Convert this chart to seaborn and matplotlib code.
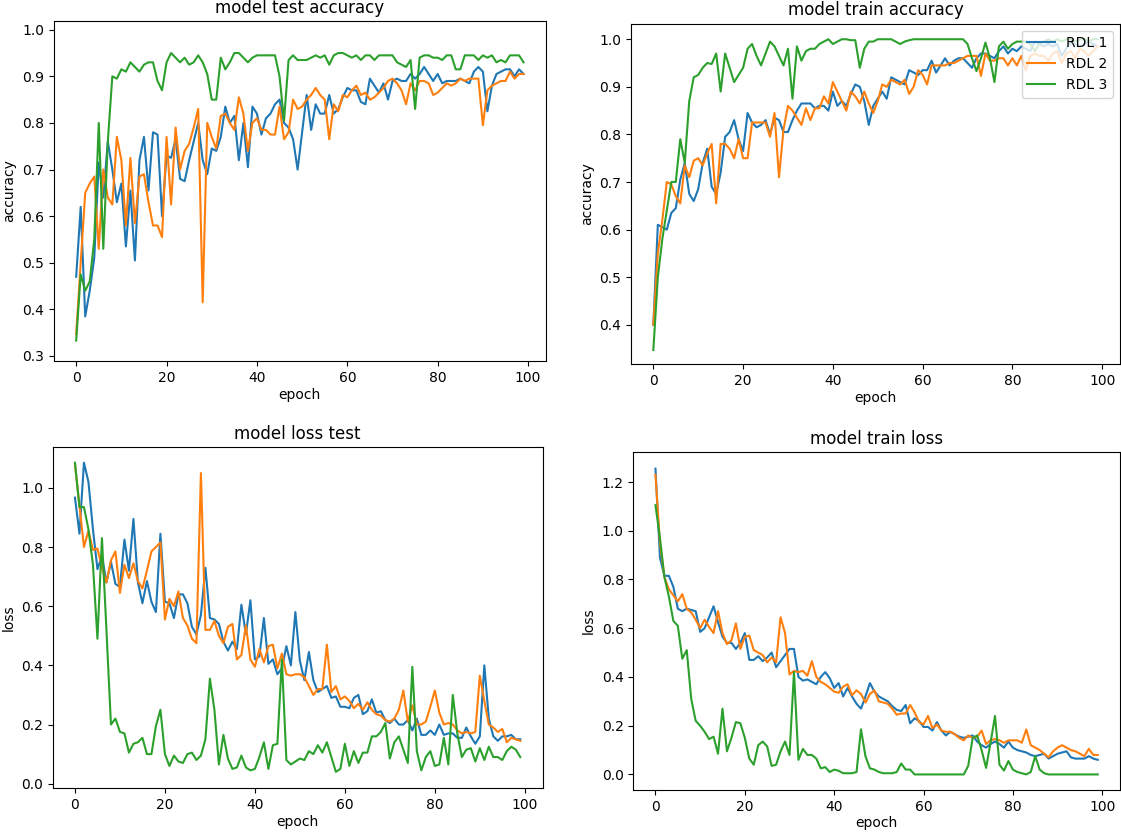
import numpy as np
import pandas as pd
import seaborn as sns
from matplotlib import pyplot as plt

epochs = list(range(100))
models = ['RDL 1', 'RDL 2', 'RDL 3']
colors = ['#1f77b4', '#ff7f0e', '#2ca02c']

# test accuracy
acc_test_1 = [0.47, 0.62, 0.385, 0.44, 0.51, 0.715, 0.64, 0.76, 0.70, 0.63,
              0.67, 0.535, 0.655, 0.505, 0.72, 0.77, 0.655, 0.78, 0.775, 0.60,
              0.73, 0.725, 0.765, 0.68, 0.675, 0.72, 0.76, 0.80, 0.72, 0.69,
              0.745, 0.74, 0.77, 0.835, 0.80, 0.815, 0.72, 0.80, 0.705, 0.835,
              0.82, 0.775, 0.81, 0.82, 0.84, 0.85, 0.80, 0.79, 0.765, 0.70,
              0.78, 0.86, 0.785, 0.84, 0.82, 0.82, 0.86, 0.82, 0.83, 0.855,
              0.875, 0.87, 0.87, 0.845, 0.84, 0.895, 0.88, 0.865, 0.885, 0.85,
              0.89, 0.895, 0.89, 0.89, 0.905, 0.895, 0.905, 0.92, 0.905, 0.89,
              0.905, 0.885, 0.89, 0.89, 0.89, 0.895, 0.89, 0.885, 0.91, 0.92,
              0.91, 0.825, 0.88, 0.905, 0.91, 0.915, 0.915, 0.90, 0.915, 0.905]
acc_test_2 = [0.347, 0.50, 0.65, 0.67, 0.685, 0.53, 0.70, 0.64, 0.625, 0.77,
              0.72, 0.58, 0.725, 0.585, 0.685, 0.69, 0.63, 0.58, 0.58, 0.555,
              0.77, 0.625, 0.79, 0.70, 0.74, 0.755, 0.79, 0.83, 0.415, 0.80,
              0.77, 0.745, 0.815, 0.82, 0.80, 0.785, 0.855, 0.82, 0.74, 0.80,
              0.81, 0.785, 0.785, 0.775, 0.775, 0.835, 0.765, 0.78, 0.85, 0.83,
              0.835, 0.85, 0.86, 0.875, 0.86, 0.85, 0.765, 0.84, 0.825, 0.86,
              0.855, 0.87, 0.88, 0.86, 0.865, 0.85, 0.855, 0.865, 0.875, 0.89,
              0.895, 0.885, 0.87, 0.84, 0.885, 0.87, 0.89, 0.89, 0.885, 0.86,
              0.865, 0.875, 0.885, 0.88, 0.885, 0.895, 0.89, 0.895, 0.895, 0.895,
              0.795, 0.87, 0.88, 0.885, 0.89, 0.89, 0.91, 0.895, 0.905, 0.905]
acc_test_3 = [0.333, 0.475, 0.44, 0.46, 0.55, 0.80, 0.53, 0.76, 0.90, 0.895,
              0.915, 0.91, 0.93, 0.92, 0.91, 0.925, 0.93, 0.93, 0.89, 0.87,
              0.93, 0.95, 0.94, 0.93, 0.94, 0.925, 0.93, 0.945, 0.93, 0.905,
              0.85, 0.85, 0.94, 0.915, 0.93, 0.95, 0.95, 0.94, 0.93, 0.94,
              0.945, 0.945, 0.945, 0.945, 0.945, 0.90, 0.805, 0.935, 0.945, 0.935,
              0.935, 0.935, 0.94, 0.945, 0.94, 0.945, 0.925, 0.945, 0.95, 0.95,
              0.945, 0.94, 0.945, 0.935, 0.945, 0.945, 0.935, 0.945, 0.945, 0.945,
              0.945, 0.93, 0.925, 0.92, 0.935, 0.83, 0.94, 0.945, 0.945, 0.94,
              0.94, 0.935, 0.945, 0.945, 0.915, 0.915, 0.945, 0.945, 0.945, 0.935,
              0.945, 0.94, 0.945, 0.93, 0.935, 0.93, 0.945, 0.945, 0.945, 0.93]

# train accuracy
acc_train_1 = [0.40, 0.61, 0.605, 0.60, 0.635, 0.645, 0.705, 0.74, 0.675, 0.66,
               0.685, 0.74, 0.77, 0.69, 0.675, 0.72, 0.795, 0.805, 0.83, 0.79,
               0.765, 0.845, 0.825, 0.815, 0.82, 0.83, 0.80, 0.835, 0.83, 0.805,
               0.805, 0.83, 0.85, 0.865, 0.865, 0.865, 0.855, 0.86, 0.86, 0.85,
               0.89, 0.86, 0.87, 0.86, 0.885, 0.905, 0.90, 0.87, 0.82, 0.86,
               0.875, 0.89, 0.875, 0.92, 0.915, 0.91, 0.905, 0.935, 0.93, 0.925,
               0.935, 0.935, 0.955, 0.93, 0.945, 0.96, 0.945, 0.955, 0.96, 0.96,
               0.95, 0.94, 0.96, 0.97, 0.97, 0.965, 0.96, 0.975, 0.985, 0.97,
               0.98, 0.975, 0.985, 0.98, 0.975, 0.995, 0.99, 0.985, 0.99, 0.985,
               0.99, 0.965, 0.98, 0.995, 0.99, 0.985, 0.99, 0.995, 0.99, 0.985]
acc_train_2 = [0.40, 0.55, 0.62, 0.70, 0.695, 0.67, 0.655, 0.735, 0.71, 0.745,
               0.75, 0.735, 0.76, 0.78, 0.655, 0.78, 0.78, 0.77, 0.75, 0.79,
               0.75, 0.75, 0.825, 0.825, 0.825, 0.825, 0.795, 0.845, 0.71, 0.81,
               0.86, 0.85, 0.835, 0.82, 0.855, 0.83, 0.855, 0.855, 0.88, 0.865,
               0.91, 0.89, 0.87, 0.85, 0.89, 0.88, 0.865, 0.89, 0.865, 0.845,
               0.87, 0.905, 0.90, 0.915, 0.91, 0.905, 0.915, 0.885, 0.90, 0.935,
               0.925, 0.905, 0.945, 0.945, 0.945, 0.945, 0.95, 0.95, 0.955, 0.96,
               0.965, 0.965, 0.965, 0.923, 0.97, 0.955, 0.955, 0.96, 0.96, 0.945,
               0.96, 0.945, 0.965, 0.935, 0.965, 0.97, 0.965, 0.965, 0.955, 0.97,
               0.975, 0.95, 0.97, 0.975, 0.96, 0.98, 0.975, 0.965, 0.975, 0.985]
acc_train_3 = [0.347, 0.50, 0.58, 0.64, 0.70, 0.70, 0.79, 0.74, 0.87, 0.92,
               0.925, 0.94, 0.95, 0.948, 0.97, 0.89, 0.97, 0.94, 0.91, 0.925,
               0.94, 0.98, 0.99, 0.965, 0.945, 0.97, 0.995, 0.985, 0.965, 0.945,
               0.98, 0.875, 0.985, 0.955, 0.975, 0.98, 0.98, 0.99, 0.995, 1.0,
               0.99, 0.995, 1.0, 1.0, 0.998, 0.998, 0.94, 0.98, 0.995, 0.995,
               1.0, 1.0, 1.0, 1.0, 0.995, 0.99, 0.995, 0.998, 1.0, 1.0,
               1.0, 1.0, 1.0, 1.0, 1.0, 1.0, 1.0, 1.0, 1.0, 1.0,
               0.99, 0.96, 0.933, 0.96, 0.993, 0.96, 0.91, 0.985, 0.995, 0.98,
               0.99, 0.995, 0.995, 0.995, 0.99, 0.975, 0.99, 0.995, 1.0, 0.995,
               1.0, 0.995, 1.0, 1.0, 0.995, 1.0, 1.0, 0.995, 1.0, 1.0]

# test loss
loss_test_1 = [0.967, 0.845, 1.085, 1.02, 0.86, 0.725, 0.77, 0.68, 0.75, 0.675,
               0.665, 0.825, 0.72, 0.895, 0.68, 0.61, 0.685, 0.615, 0.58, 0.845,
               0.615, 0.61, 0.56, 0.64, 0.64, 0.61, 0.53, 0.505, 0.57, 0.73,
               0.56, 0.555, 0.54, 0.48, 0.45, 0.48, 0.455, 0.605, 0.505, 0.62,
               0.42, 0.43, 0.56, 0.405, 0.42, 0.37, 0.39, 0.465, 0.40, 0.58,
               0.415, 0.35, 0.445, 0.35, 0.31, 0.32, 0.33, 0.29, 0.295, 0.26,
               0.26, 0.255, 0.29, 0.30, 0.235, 0.245, 0.285, 0.24, 0.245, 0.215,
               0.205, 0.22, 0.20, 0.20, 0.215, 0.18, 0.22, 0.165, 0.165, 0.18,
               0.165, 0.20, 0.165, 0.17, 0.17, 0.155, 0.155, 0.19, 0.16, 0.135,
               0.16, 0.40, 0.22, 0.16, 0.145, 0.16, 0.16, 0.165, 0.15, 0.15]
loss_test_2 = [1.08, 0.94, 0.80, 0.855, 0.79, 0.795, 0.73, 0.68, 0.755, 0.785,
               0.645, 0.74, 0.695, 0.745, 0.685, 0.66, 0.72, 0.785, 0.80, 0.815,
               0.555, 0.625, 0.60, 0.65, 0.56, 0.535, 0.49, 0.475, 1.05, 0.52,
               0.52, 0.55, 0.50, 0.475, 0.53, 0.54, 0.42, 0.435, 0.535, 0.42,
               0.395, 0.455, 0.41, 0.465, 0.47, 0.39, 0.44, 0.37, 0.365, 0.37,
               0.37, 0.36, 0.33, 0.30, 0.32, 0.32, 0.47, 0.31, 0.33, 0.285,
               0.295, 0.28, 0.255, 0.27, 0.25, 0.275, 0.25, 0.235, 0.23, 0.215,
               0.21, 0.22, 0.25, 0.315, 0.21, 0.265, 0.20, 0.20, 0.21, 0.26,
               0.315, 0.24, 0.20, 0.205, 0.20, 0.18, 0.17, 0.175, 0.17, 0.175,
               0.365, 0.28, 0.20, 0.19, 0.175, 0.185, 0.14, 0.155, 0.15, 0.145]
loss_test_3 = [1.085, 0.935, 0.935, 0.86, 0.74, 0.49, 0.83, 0.52, 0.20, 0.22,
               0.175, 0.17, 0.105, 0.135, 0.14, 0.155, 0.10, 0.10, 0.195, 0.25,
               0.10, 0.06, 0.095, 0.075, 0.07, 0.10, 0.105, 0.08, 0.095, 0.15,
               0.355, 0.25, 0.065, 0.165, 0.085, 0.05, 0.055, 0.095, 0.055, 0.045,
               0.05, 0.09, 0.14, 0.05, 0.13, 0.135, 0.42, 0.08, 0.065, 0.075,
               0.085, 0.08, 0.11, 0.10, 0.13, 0.105, 0.14, 0.09, 0.04, 0.05,
               0.135, 0.06, 0.11, 0.07, 0.105, 0.105, 0.16, 0.16, 0.175, 0.205,
               0.085, 0.14, 0.16, 0.115, 0.07, 0.395, 0.11, 0.045, 0.09, 0.11,
               0.06, 0.065, 0.155, 0.065, 0.30, 0.17, 0.09, 0.115, 0.12, 0.075,
               0.12, 0.08, 0.125, 0.09, 0.09, 0.08, 0.11, 0.125, 0.115, 0.09]

# train loss
loss_train_1 = [1.255, 0.89, 0.815, 0.815, 0.77, 0.68, 0.67, 0.68, 0.675, 0.67,
                0.585, 0.60, 0.645, 0.69, 0.625, 0.565, 0.54, 0.54, 0.515, 0.54,
                0.58, 0.47, 0.47, 0.485, 0.465, 0.48, 0.50, 0.44, 0.465, 0.49,
                0.515, 0.515, 0.40, 0.385, 0.39, 0.38, 0.37, 0.40, 0.42, 0.395,
                0.355, 0.375, 0.32, 0.355, 0.32, 0.29, 0.27, 0.32, 0.375, 0.34,
                0.32, 0.31, 0.30, 0.28, 0.265, 0.26, 0.285, 0.21, 0.23, 0.22,
                0.195, 0.195, 0.18, 0.215, 0.18, 0.16, 0.175, 0.165, 0.155, 0.15,
                0.155, 0.16, 0.135, 0.12, 0.11, 0.125, 0.135, 0.125, 0.11, 0.135,
                0.11, 0.10, 0.095, 0.09, 0.08, 0.075, 0.08, 0.085, 0.065, 0.075,
                0.085, 0.09, 0.095, 0.07, 0.065, 0.065, 0.065, 0.075, 0.065, 0.06]
loss_train_2 = [1.23, 0.95, 0.81, 0.76, 0.735, 0.71, 0.74, 0.68, 0.665, 0.635,
                0.60, 0.635, 0.605, 0.58, 0.67, 0.58, 0.535, 0.55, 0.62, 0.515,
                0.565, 0.57, 0.51, 0.50, 0.49, 0.46, 0.48, 0.46, 0.645, 0.58,
                0.41, 0.425, 0.42, 0.425, 0.405, 0.465, 0.40, 0.38, 0.37, 0.355,
                0.34, 0.335, 0.36, 0.37, 0.325, 0.345, 0.33, 0.295, 0.33, 0.345,
                0.30, 0.295, 0.29, 0.27, 0.245, 0.25, 0.25, 0.285, 0.255, 0.215,
                0.205, 0.24, 0.19, 0.205, 0.18, 0.175, 0.175, 0.165, 0.15, 0.14,
                0.16, 0.15, 0.155, 0.18, 0.125, 0.14, 0.145, 0.14, 0.13, 0.14,
                0.14, 0.14, 0.13, 0.185, 0.12, 0.11, 0.10, 0.085, 0.07, 0.095,
                0.11, 0.12, 0.11, 0.10, 0.095, 0.085, 0.075, 0.105, 0.08, 0.08]
loss_train_3 = [1.105, 0.97, 0.81, 0.73, 0.63, 0.61, 0.475, 0.51, 0.31, 0.22,
                0.20, 0.175, 0.145, 0.155, 0.085, 0.27, 0.095, 0.15, 0.215, 0.21,
                0.15, 0.065, 0.04, 0.12, 0.135, 0.115, 0.035, 0.04, 0.095, 0.135,
                0.08, 0.42, 0.06, 0.105, 0.08, 0.08, 0.065, 0.025, 0.03, 0.01,
                0.02, 0.015, 0.005, 0.005, 0.005, 0.01, 0.185, 0.075, 0.025, 0.02,
                0.01, 0.005, 0.005, 0.005, 0.01, 0.045, 0.02, 0.02, 0.0, 0.0,
                0.0, 0.0, 0.0, 0.0, 0.0, 0.0, 0.0, 0.0, 0.0, 0.0,
                0.035, 0.15, 0.16, 0.10, 0.027, 0.13, 0.24, 0.04, 0.016, 0.055,
                0.02, 0.01, 0.005, 0.0, 0.01, 0.075, 0.02, 0.005, 0.0, 0.0,
                0.0, 0.0, 0.0, 0.0, 0.0, 0.0, 0.0, 0.0, 0.0, 0.0]


def getLongDf(series):
	dfs = []
	for name, vals in zip(models, series):
		dfs.append(pd.DataFrame({'epoch': epochs, 'value': vals, 'model': name}))
	return pd.concat(dfs, ignore_index=True)


def drawPanel(ax, series, title, ylabel, ylim, legend=False):
	df_long = getLongDf(series)
	sns.lineplot(data=df_long, x='epoch', y='value', hue='model', hue_order=models,
	             palette=colors, linewidth=1.5, ax=ax, legend=legend)
	ax.set_title(title, fontsize=12)
	ax.set_xlabel('epoch', labelpad=2)
	ax.set_ylabel(ylabel)
	ax.set_xlim(-4.95, 103.95)
	ax.set_ylim(*ylim)
	ax.set_xticks([0, 20, 40, 60, 80, 100])
	if legend:
		sns.move_legend(ax, 'upper right', title=None)


fig = plt.figure(figsize=(11.21, 8.34), dpi=100)
ax1 = fig.add_axes([0.048, 0.567, 0.439, 0.408])
ax2 = fig.add_axes([0.563, 0.5635, 0.436, 0.408])
ax3 = fig.add_axes([0.047, 0.055, 0.437, 0.409])
ax4 = fig.add_axes([0.565, 0.053, 0.434, 0.405])

drawPanel(ax1, [acc_test_1, acc_test_2, acc_test_3], 'model test accuracy', 'accuracy', (0.289, 1.019))
drawPanel(ax2, [acc_train_1, acc_train_2, acc_train_3], 'model train accuracy', 'accuracy', (0.3175, 1.0325), legend=True)
drawPanel(ax3, [loss_test_1, loss_test_2, loss_test_3], 'model loss test', 'loss', (-0.015, 1.138))
drawPanel(ax4, [loss_train_1, loss_train_2, loss_train_3], 'model train loss', 'loss', (-0.063, 1.323))

fig.savefig('out.png', dpi=100)
